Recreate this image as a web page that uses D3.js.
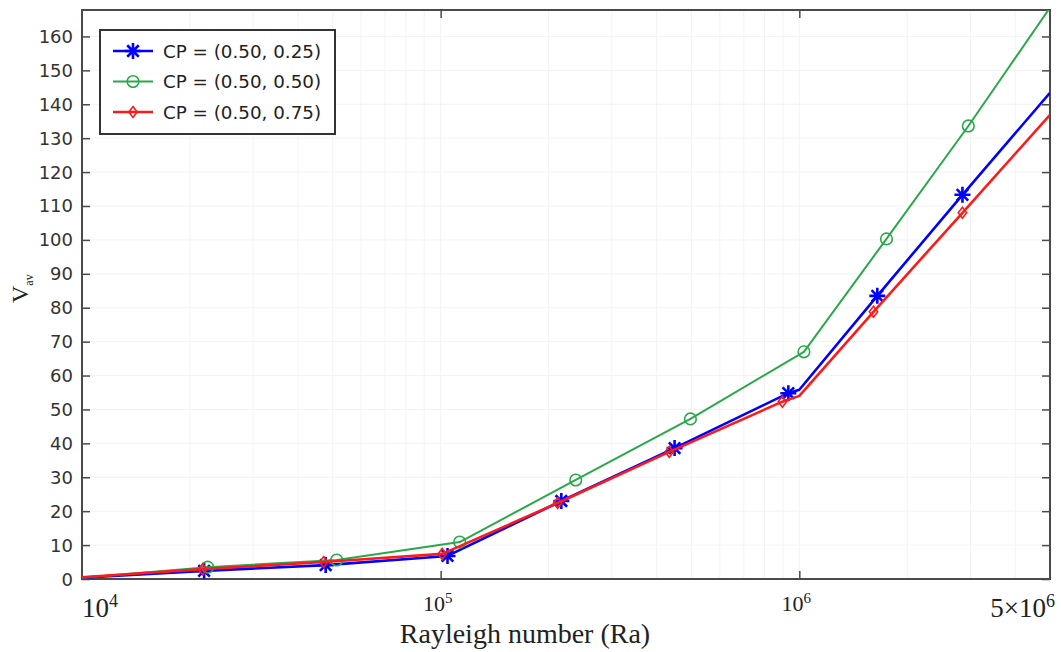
<!DOCTYPE html>
<html>
<head>
<meta charset="utf-8">
<script src="https://cdn.jsdelivr.net/npm/d3@7"></script>
<style>
  html, body { margin: 0; padding: 0; background: #fff; }
  svg { display: block; }
</style>
</head>
<body>
<svg id="chart" width="1061" height="652"></svg>
<script>
// ---------- data ----------
const seriesNames = ["CP = (0.50, 0.25)", "CP = (0.50, 0.50)", "CP = (0.50, 0.75)"];
const seriesColors = ["#0000ff", "#2aa84a", "#ff1a1a"];
const seriesMarkers = ["star", "circle", "diamond"];

// marker positions (Ra, V_av)
const blueMarkRa = [2.19e4, 4.78e4, 1.045e5, 2.17e5, 4.49e5, 9.32e5, 1.65e6, 2.85e6];
const blueMarkV  = [2.4, 4.1, 6.8, 23.0, 38.6, 54.8, 83.5, 113.3];
const greenMarkRa = [2.24e4, 5.13e4, 1.13e5, 2.38e5, 4.97e5, 1.03e6, 1.75e6, 2.96e6];
const greenMarkV  = [3.5, 5.6, 10.9, 29.2, 47.2, 67.0, 100.3, 133.6];
const redMarkRa = [2.17e4, 4.72e4, 1.01e5, 2.12e5, 4.34e5, 8.97e5, 1.61e6, 2.85e6];
const redMarkV  = [2.9, 5.0, 7.4, 22.4, 37.5, 52.3, 78.8, 108.0];

// line vertices (Ra, V_av)
const blueLineRa = [1e4, 2.19e4, 4.78e4, 1.045e5, 2.17e5, 4.49e5, 9.32e5, 1e6, 1.65e6, 2.85e6, 5e6];
const blueLineV  = [0.4, 2.4, 4.1, 6.8, 23.0, 38.6, 54.8, 55.8, 83.5, 113.3, 143.4];
const greenLineRa = [1e4, 2.24e4, 5.13e4, 1.13e5, 2.38e5, 4.97e5, 1.03e6, 1.75e6, 2.96e6, 5e6];
const greenLineV  = [0.4, 3.5, 5.6, 10.9, 29.2, 47.2, 67.0, 100.3, 133.6, 168.5];
const redLineRa = [1e4, 2.17e4, 4.72e4, 1.01e5, 2.12e5, 4.34e5, 8.97e5, 1e6, 1.61e6, 2.85e6, 5e6];
const redLineV  = [0.5, 2.9, 5.0, 7.4, 22.4, 37.5, 52.3, 54.0, 78.8, 108.0, 136.9];

const yTicks = [0,10,20,30,40,50,60,70,80,90,100,110,120,130,140,150,160];
const xTickVals = [1e4, 1e5, 1e6, 5e6];
const xTickBase = ["10", "10", "10", "5×10"];
const xTickExp  = ["4", "5", "6", "6"];
const xLabel = "Rayleigh number (Ra)";
const yLabelMain = "V";
const yLabelSub = "av";

// ---------- layout ----------
const L = 82, R = 1050, T = 10, B = 579;
const svg = d3.select("#chart");
const x = d3.scaleLog().domain([1e4, 5e6]).range([L, R]);
const y = d3.scaleLinear().domain([0, 167.8]).range([B, T]);

// grid (very faint)
const minorX = [];
for (let d = 1e4; d < 5e6; d *= 10) for (let k = 1; k < 10; k++) { const v = d * k; if (v > 1e4 && v < 5e6) minorX.push(v); }
svg.append("g").selectAll("line").data(minorX).join("line")
  .attr("x1", d => x(d)).attr("x2", d => x(d)).attr("y1", T).attr("y2", B)
  .attr("stroke", "#f3f3f3").attr("stroke-width", 1);
svg.append("g").selectAll("line").data(yTicks.slice(1)).join("line")
  .attr("x1", L).attr("x2", R).attr("y1", d => y(d)).attr("y2", d => y(d))
  .attr("stroke", "#f3f3f3").attr("stroke-width", 1);

// axes
const axisColor = "#4a4a4a";
const gL = svg.append("g").attr("transform", `translate(${L},0)`)
  .call(d3.axisRight(y).tickValues(yTicks).tickSize(8).tickFormat(""));
const gR = svg.append("g").attr("transform", `translate(${R},0)`)
  .call(d3.axisLeft(y).tickValues(yTicks).tickSize(8).tickFormat(""));
const gB = svg.append("g").attr("transform", `translate(0,${B})`)
  .call(d3.axisTop(x).tickValues([1e5, 1e6]).tickSize(8).tickFormat(""));
const gT = svg.append("g").attr("transform", `translate(0,${T})`)
  .call(d3.axisBottom(x).tickValues([1e5, 1e6]).tickSize(8).tickFormat(""));
[gL, gR, gB, gT].forEach(g => {
  g.select(".domain").remove();
  g.selectAll(".tick line").attr("stroke", axisColor).attr("stroke-width", 1.5);
});
svg.append("rect").attr("x", L).attr("y", T).attr("width", R - L).attr("height", B - T)
  .attr("fill", "none").attr("stroke", axisColor).attr("stroke-width", 2);

// y tick labels
svg.append("g").selectAll("text").data(yTicks).join("text")
  .attr("x", 73).attr("y", d => y(d) + 6.5)
  .attr("text-anchor", "end")
  .attr("font-family", "DejaVu Sans, sans-serif").attr("font-size", 18)
  .attr("fill", "#333")
  .text(d => d);

// x tick labels
const isBig = i => i === 0 || i === xTickVals.length - 1;
const xl = svg.append("g").selectAll("text").data(xTickVals).join("text")
  .attr("x", (d, i) => i === 0 ? x(d) : (i === xTickVals.length - 1 ? x(d) + 5 : x(d) - 3))
  .attr("y", (d, i) => isBig(i) ? 617 : 611)
  .attr("text-anchor", (d, i) => i === 0 ? "start" : (i === xTickVals.length - 1 ? "end" : "middle"))
  .attr("font-family", "Liberation Serif, Times New Roman, serif")
  .attr("font-size", (d, i) => isBig(i) ? 27 : 22)
  .attr("fill", "#222");
xl.append("tspan").text((d, i) => xTickBase[i]);
xl.append("tspan").attr("dy", (d, i) => isBig(i) ? -10 : -8)
  .attr("font-size", (d, i) => isBig(i) ? 18 : 15)
  .text((d, i) => xTickExp[i]);

// axis titles
svg.append("text").attr("x", 525).attr("y", 643).attr("text-anchor", "middle")
  .attr("font-family", "Liberation Serif, Times New Roman, serif").attr("font-size", 28)
  .attr("fill", "#222").text(xLabel);
const yt = svg.append("text").attr("transform", "translate(28,303) rotate(-90)")
  .attr("font-family", "Liberation Serif, Times New Roman, serif").attr("font-size", 24)
  .attr("fill", "#222");
yt.append("tspan").text(yLabelMain);
yt.append("tspan").attr("dy", 5).attr("font-size", 12).text(yLabelSub);

// clip
svg.append("clipPath").attr("id", "clip").append("rect")
  .attr("x", L).attr("y", T).attr("width", R - L).attr("height", B - T);

const lineSets = [
  {ra: blueLineRa, v: blueLineV, mra: blueMarkRa, mv: blueMarkV, w: 2.6},
  {ra: greenLineRa, v: greenLineV, mra: greenMarkRa, mv: greenMarkV, w: 2.0},
  {ra: redLineRa, v: redLineV, mra: redMarkRa, mv: redMarkV, w: 2.6}
];
const line = d3.line().x(d => x(d[0])).y(d => y(d[1]));

function drawMarker(g, type, cx, cy, color) {
  if (type === "star") {
    const s = 8;
    const p = d3.path();
    p.moveTo(cx - s, cy); p.lineTo(cx + s, cy);
    p.moveTo(cx, cy - s); p.lineTo(cx, cy + s);
    const a = s * 0.72;
    p.moveTo(cx - a, cy - a); p.lineTo(cx + a, cy + a);
    p.moveTo(cx - a, cy + a); p.lineTo(cx + a, cy - a);
    g.append("path").attr("d", p.toString()).attr("stroke", color).attr("stroke-width", 2.6).attr("fill", "none");
  } else if (type === "circle") {
    g.append("circle").attr("cx", cx).attr("cy", cy).attr("r", 5.8)
      .attr("stroke", color).attr("stroke-width", 1.6).attr("fill", "none");
  } else {
    const w = 4.2, h = 5.5;
    g.append("path").attr("d", `M${cx},${cy - h}L${cx + w},${cy}L${cx},${cy + h}L${cx - w},${cy}Z`)
      .attr("stroke", color).attr("stroke-width", 1.6).attr("fill", "none");
  }
}

const plotG = svg.append("g").attr("clip-path", "url(#clip)");
lineSets.forEach((s, i) => {
  const g = plotG.append("g");
  g.append("path").datum(s.ra.map((r, j) => [r, s.v[j]]))
    .attr("d", line).attr("fill", "none")
    .attr("stroke", seriesColors[i]).attr("stroke-width", s.w).attr("stroke-linejoin", "round");
  s.mra.forEach((r, j) => drawMarker(g, seriesMarkers[i], x(r), y(s.mv[j]), seriesColors[i]));
});

// legend
const lg = svg.append("g");
lg.append("rect").attr("x", 100).attr("y", 30).attr("width", 235).attr("height", 104)
  .attr("fill", "#fff").attr("stroke", "#333").attr("stroke-width", 2);
seriesNames.forEach((name, i) => {
  const yy = 51 + i * 30.5;
  lg.append("line").attr("x1", 113).attr("x2", 153).attr("y1", yy).attr("y2", yy)
    .attr("stroke", seriesColors[i]).attr("stroke-width", i === 1 ? 2 : 2.6);
  drawMarker(lg, seriesMarkers[i], 133, yy, seriesColors[i]);
  lg.append("text").attr("x", 163).attr("y", yy + 6.5)
    .attr("font-family", "DejaVu Sans, sans-serif").attr("font-size", 18.3).attr("fill", "#222")
    .text(name);
});
</script>
</body>
</html>
